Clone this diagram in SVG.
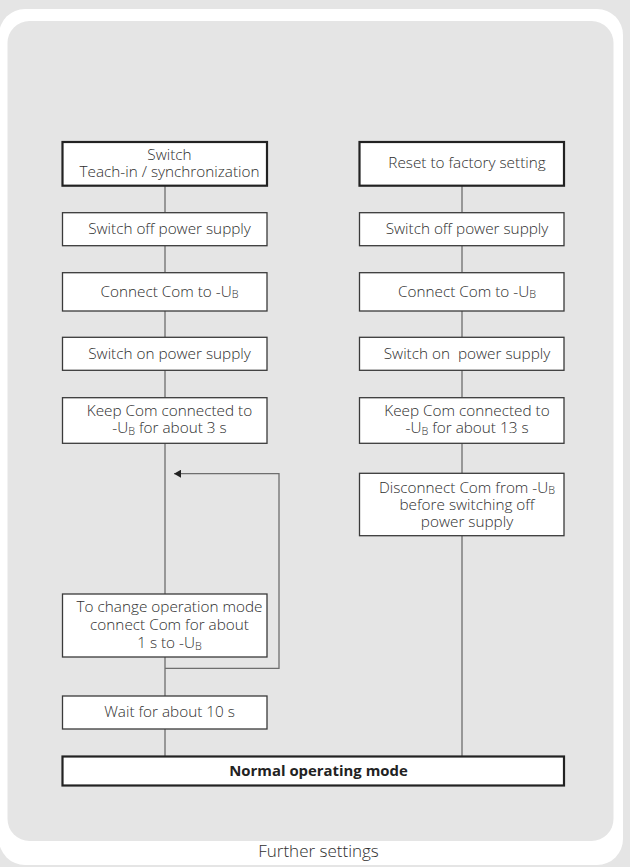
<svg xmlns="http://www.w3.org/2000/svg" width="630" height="867" viewBox="0 0 630 867">
<style>
.bx{fill:#fff;stroke:#3a3a3a;stroke-width:1.3}
.bb{fill:#fff;stroke:#222;stroke-width:2.2}
.t{font-family:"Open Sans","Liberation Sans",sans-serif;font-size:15.3px;font-weight:300;fill:#2e2e2e;text-anchor:middle}
.b{font-weight:bold;fill:#222;font-size:14.9px}
.s{font-size:10.8px}
.c{fill:none;stroke:#6e6e6e;stroke-width:1.3}
</style>
<defs>
<marker id="ah" markerWidth="8" markerHeight="8" refX="7" refY="4" orient="auto" markerUnits="userSpaceOnUse">
<path d="M0,0 L7,4 L0,8 Z" fill="#222"/>
</marker>
</defs>
<rect x="0" y="0" width="630" height="867" fill="#e5e5e5"/>
<rect x="-1" y="9" width="624" height="856" rx="26" fill="#fff"/>
<rect x="7.5" y="21" width="606" height="820" rx="22" fill="#e5e5e5"/>

<g id="connectors">
<path class="c" d="M165,185.7V212.7M165,245.7V272.7M165,311V337.3M165,370.3V397.7M165,443.3V594M165,657V696M165,729V756"/>
<path class="c" d="M462,185.7V212.7M462,245.7V272.7M462,311V337.3M462,370.3V397.7M462,443.3V473.3M462,535.7V756"/>
<path class="c" d="M165,668.3H279V473.7H174" marker-end="url(#ah)"/>
</g>

<g id="n-switch-teach">
<rect class="bb" x="62.5" y="142" width="204.5" height="43.7"/>
<text class="t" x="169.5" y="160">Switch</text>
<text class="t" x="169.5" y="176.7">Teach-in / synchronization</text>
</g>
<g id="n-l-off">
<rect class="bx" x="62.5" y="212.7" width="204.5" height="33"/>
<text class="t" x="169.5" y="234.3">Switch off power supply</text>
</g>
<g id="n-l-connect">
<rect class="bx" x="62.5" y="272.7" width="204.5" height="38.3"/>
<text class="t" x="169.5" y="296.7">Connect Com to -U<tspan class="s" dy="1.5">B</tspan></text>
</g>
<g id="n-l-on">
<rect class="bx" x="62.5" y="337.3" width="204.5" height="33"/>
<text class="t" x="169.5" y="359.3">Switch on power supply</text>
</g>
<g id="n-l-keep">
<rect class="bx" x="62.5" y="397.7" width="204.5" height="45.6"/>
<text class="t" x="169.5" y="416">Keep Com connected to</text>
<text class="t" x="169.5" y="433.3">-U<tspan class="s" dy="1.5">B</tspan><tspan dy="-1.5"> for about 3 s</tspan></text>
</g>
<g id="n-l-change">
<rect class="bx" x="62.5" y="594" width="204.5" height="63"/>
<text class="t" x="169.5" y="611.7">To change operation mode</text>
<text class="t" x="169.5" y="630">connect Com for about</text>
<text class="t" x="169.5" y="648.3">1 s to -U<tspan class="s" dy="1.5">B</tspan></text>
</g>
<g id="n-l-wait">
<rect class="bx" x="62.5" y="696" width="204.5" height="33"/>
<text class="t" x="169.5" y="716.7">Wait for about 10 s</text>
</g>

<g id="n-reset">
<rect class="bb" x="359.5" y="142" width="204.5" height="43.7"/>
<text class="t" x="467" y="168.3">Reset to factory setting</text>
</g>
<g id="n-r-off">
<rect class="bx" x="359.5" y="212.7" width="204.5" height="33"/>
<text class="t" x="467" y="234.3">Switch off power supply</text>
</g>
<g id="n-r-connect">
<rect class="bx" x="359.5" y="272.7" width="204.5" height="38.3"/>
<text class="t" x="467" y="296.7">Connect Com to -U<tspan class="s" dy="1.5">B</tspan></text>
</g>
<g id="n-r-on">
<rect class="bx" x="359.5" y="337.3" width="204.5" height="33"/>
<text class="t" x="467" y="359.3" xml:space="preserve">Switch on  power supply</text>
</g>
<g id="n-r-keep">
<rect class="bx" x="359.5" y="397.7" width="204.5" height="45.6"/>
<text class="t" x="467" y="416">Keep Com connected to</text>
<text class="t" x="467" y="433.3">-U<tspan class="s" dy="1.5">B</tspan><tspan dy="-1.5"> for about 13 s</tspan></text>
</g>
<g id="n-r-disconnect">
<rect class="bx" x="359.5" y="473.3" width="204.5" height="62.4"/>
<text class="t" x="467" y="492.7">Disconnect Com from -U<tspan class="s" dy="1.5">B</tspan></text>
<text class="t" x="467" y="510">before switching off</text>
<text class="t" x="467" y="526.5">power supply</text>
</g>

<g id="n-normal">
<rect class="bb" x="62.5" y="756.5" width="501.5" height="29"/>
<text class="t b" x="318.5" y="775.5">Normal operating mode</text>
</g>

<text class="t" x="318.5" y="857.3" style="font-size:17px">Further settings</text>
</svg>
